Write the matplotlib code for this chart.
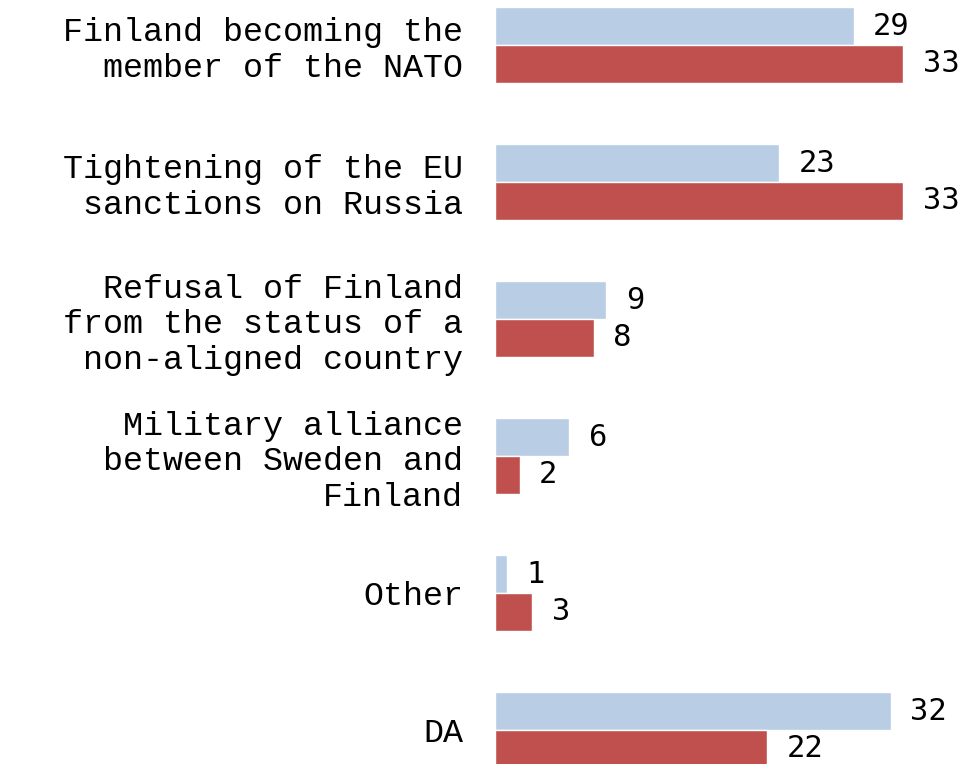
import matplotlib.pyplot as plt
import numpy as np

# Categories (top to bottom) and the two series
categories = [
    "Finland becoming the\nmember of the NATO",
    "Tightening of the EU\nsanctions on Russia",
    "Refusal of Finland\nfrom the status of a\nnon-aligned country",
    "Military alliance\nbetween Sweden and\nFinland",
    "Other",
    "DA",
]
series_blue = [29, 23, 9, 6, 1, 32]
series_red = [33, 33, 8, 2, 3, 22]

blue = '#b9cde5'
red = '#c0504d'

fig = plt.figure(figsize=(9.65, 7.64), dpi=100)
ax = fig.add_axes([0.513, 0.0, 0.487, 1.0])

y = np.arange(len(categories))
h = 0.275
ax.barh(y - h / 2, series_blue, height=h, color=blue, edgecolor='white', linewidth=1)
ax.barh(y + h / 2, series_red, height=h, color=red, edgecolor='white', linewidth=1)

# value labels to the right of each bar
for yi, v in zip(y - h / 2, series_blue):
    ax.annotate(str(v), (v, yi), xytext=(14, 0), textcoords='offset points',
                va='center', ha='left', fontsize=22, family='DejaVu Sans Mono')
for yi, v in zip(y + h / 2, series_red):
    ax.annotate(str(v), (v, yi), xytext=(14, 0), textcoords='offset points',
                va='center', ha='left', fontsize=22, family='DejaVu Sans Mono')

ax.set_yticks(y)
ax.set_yticklabels(categories, fontsize=24, family='Liberation Mono', linespacing=1.2)
ax.tick_params(axis='y', length=0, pad=23)
ax.set_xticks([])
ax.set_xlim(0, 38.0)
ax.set_ylim(5.248, -0.328)
for s in ax.spines.values():
    s.set_visible(False)

fig.savefig('out.png', dpi=100)
